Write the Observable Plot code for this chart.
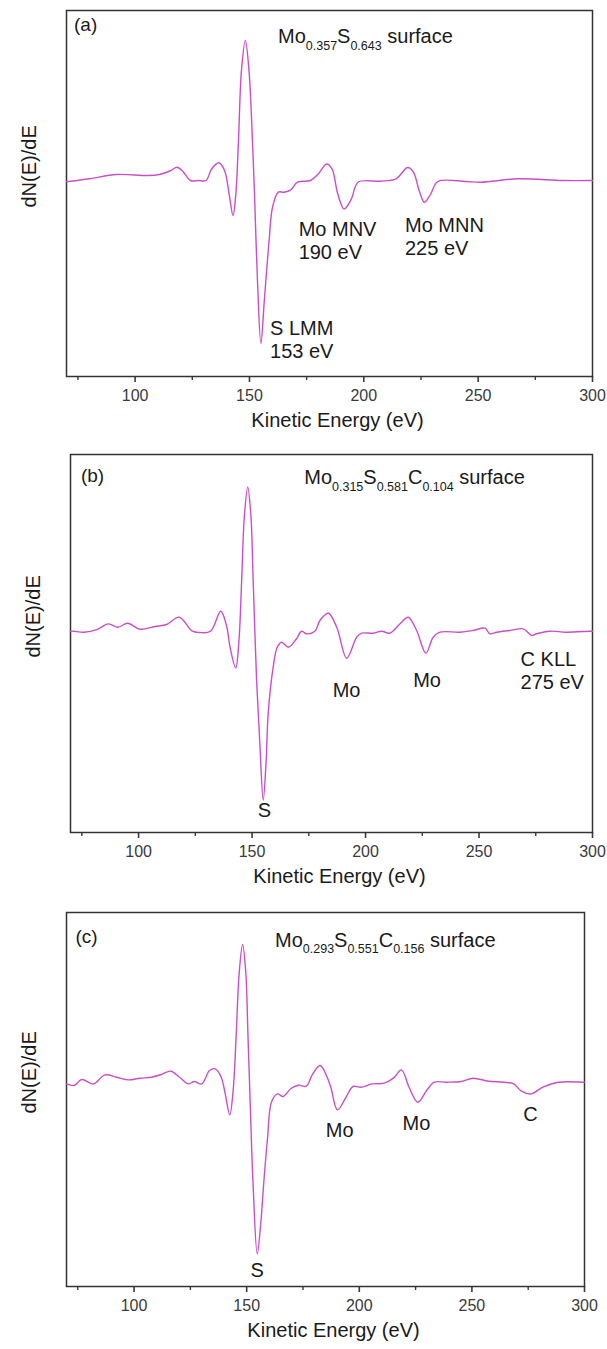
<!DOCTYPE html>
<html><head><meta charset="utf-8">
<script src="https://cdn.jsdelivr.net/npm/d3@7"></script>
<script src="https://cdn.jsdelivr.net/npm/@observablehq/plot@0.6"></script>
<style>
body{margin:0;background:#fff;}
#chart svg{display:block;}
</style></head><body><div id="chart"></div>
<script>
// ---- data ----
const majorTicks = [100, 150, 200, 250, 300];
const minorTicks = [75, 125, 175, 225, 275];
const xLabel = "Kinetic Energy (eV)";
const yLabel = "dN(E)/dE";

// (a) Mo0.357S0.643 surface
const energyA = [70,70.7,80,91.9,105.5,110.6,115.7,118.3,120.8,124.2,127.6,131,133.5,136.6,139.1,141.1,142.8,144,145.2,146.5,148.2,149.8,151.3,152.3,153.5,155,156.5,158.6,160.1,162.6,165.2,168.1,171,176.7,180.2,183.7,186.1,188.6,191.4,194.6,197.5,207.3,214.1,219.2,221.7,224.2,226.5,229.3,232.4,244.6,251.3,267.5,287,300];
const signalA = [-1,-1,1.7,6,5,6,10,13.3,9.3,0,0,0,11.7,17.7,10,-13.3,-35,-15,40,110,140,110,40,-20,-100,-163,-120,-60,-26.7,-11.7,-11.7,-9.3,-1.7,0,6.7,16.5,11.7,-13.3,-28.5,-18.3,-1.7,-0.7,1.7,13,8.3,-10,-21.7,-13.3,-1,-1,-1.7,1.7,0,0];
const tagA = "(a)";
const elementsA = ["Mo", "S"];
const fractionsA = ["0.357", "0.643"];
const labelsA = ["Mo MNV\n190 eV", "Mo MNN\n225 eV", "S LMM\n153 eV"];
const labelXA = [171.5, 218.0, 159.0];
const labelYA = [-78.3, -74.3, -177.3];
const labelAnchorA = ["start", "start", "start"];

// (b) Mo0.315S0.581C0.104 surface
const energyB = [70,71.4,76,81.6,86.7,90.9,95.2,100.6,107.2,112.3,117.9,123.7,126.8,131.7,136.2,138.8,140.3,142.8,144.2,145.4,146.6,148.1,149.5,150.5,152,153.5,154.9,156.2,157.1,159.3,161.1,163,166,169.6,171.8,174,177.7,179.9,183.6,187.3,191.7,196.1,198.3,203.4,207.1,210.7,215.2,218.8,222.5,226.6,229.8,232.8,241.6,247.4,252.6,254.8,257.8,263.6,269.5,273.2,275.4,281.2,288.5,298.8,300];
const signalB = [0,0,-1,1.6,7.3,4,8,2,4.7,6.7,14,0,-1.3,0,20,5,-16,-36.7,-10,50,115,144,115,50,-49,-116,-169,-130,-82.6,-36,-16,-11,-16,-7.6,0,-2.6,0,10.7,18,4,-27,-6,-2,-2,0,-2,7.4,14,0.7,-22,-6,-1,-1,0.7,3,-2.6,-1,0.7,2.4,-4.3,-2.6,0,-1,0,0];
const tagB = "(b)";
const elementsB = ["Mo", "S", "C"];
const fractionsB = ["0.315", "0.581", "0.104"];
const labelsB = ["S", "Mo", "Mo", "C KLL\n275 eV"];
const labelXB = [155.4, 185.5, 221.0, 268.3];
const labelYB = [-185.3, -66, -56, -57.6];
const labelAnchorB = ["middle", "start", "start", "start"];

// (c) Mo0.293S0.551C0.156 surface
const energyC = [70,70.8,73.4,76.8,81.9,87.1,92.3,97.5,102.6,107.8,112.1,116.3,120.2,124.1,126.7,130.1,133.5,136.1,138.7,140.5,142.5,144,145.3,146.7,148.2,149.6,150.6,151.7,152.8,154.7,156.3,157.6,159.3,161,163.7,166.2,169.7,173.1,176.5,179.1,182.6,186.9,190.3,193.8,197.2,200.6,205.8,211,215.3,218.7,222.1,226,229.9,233.3,238.5,245.3,250.5,257.4,264.3,268.6,272,276.3,281.5,288.4,299.5,300];
const signalC = [-2,-2.3,-3.3,2.7,-1.7,7.3,5,2.3,4,5,7.7,11,5,-1.7,0.7,-1.7,11.7,13.3,5,-12,-32.7,-8,45,110,137.7,110,45,-30,-100,-171.7,-140,-100,-55,-20,-11.7,-14.3,-6.3,-3,-4,7.3,16.7,-1.7,-27.7,-16.3,-4.3,-5,-1.7,-1,4.3,12.3,-5,-20,-8.3,0,0,0.7,4,1,0,-1.7,-9,-11.7,-5,0,0,0];
const tagC = "(c)";
const elementsC = ["Mo", "S", "C"];
const fractionsC = ["0.293", "0.551", "0.156"];
const labelsC = ["S", "Mo", "Mo", "C"];
const labelXC = [154.7, 185.1, 219.2, 272.8];
const labelYC = [-195, -55, -47.6, -39];
const labelAnchorC = ["middle", "start", "start", "start"];

// ---- panel layout ----
const panels = [
  {energy: energyA, signal: signalA, tag: tagA, tagX: 73.3, tagY: 150, elements: elementsA, fractions: fractionsA, titleX: 162.7, titleY: 136.7,
   labels: labelsA, lx: labelXA, ly: labelYA, la: labelAnchorA, yDomain: [-196, 170],
   height: 430, marginTop: 10, marginBottom: 54, marginLeft: 66, marginRight: 15},
  {energy: energyB, signal: signalB, tag: tagB, tagX: 74.6, tagY: 149.7, elements: elementsB, fractions: fractionsB, titleX: 173.2, titleY: 146.7,
   labels: labelsB, lx: labelXB, ly: labelYB, la: labelAnchorB, yDomain: [-201.3, 176.7],
   height: 460, marginTop: 24, marginBottom: 58, marginLeft: 70, marginRight: 15},
  {energy: energyC, signal: signalC, tag: tagC, tagX: 74, tagY: 139.7, elements: elementsC, fractions: fractionsC, titleX: 162.8, titleY: 135,
   labels: labelsC, lx: labelXC, ly: labelYC, la: labelAnchorC, yDomain: [-204.3, 169.7],
   height: 459, marginTop: 22, marginBottom: 63, marginLeft: 66, marginRight: 23}
];

const FONT = "'Liberation Sans', Arial, Helvetica, sans-serif";
const LINE = "#c94fc9";
const INK = "#1a1a1a";

const root = document.getElementById("chart");
for (const p of panels) {
  const series = p.energy.map((e, i) => ({energy: e, signal: p.signal[i]}));
  const notes = p.labels.map((t, i) => ({text: t, x: p.lx[i], y: p.ly[i], anchor: p.la[i]}));
  const plot = Plot.plot({
    width: 607,
    height: p.height,
    marginTop: p.marginTop,
    marginBottom: p.marginBottom,
    marginLeft: p.marginLeft,
    marginRight: p.marginRight,
    style: {fontFamily: FONT, fontSize: "16px", color: "#3a3a3a", background: "#fff", overflow: "visible"},
    x: {domain: [70, 300]},
    y: {domain: p.yDomain, axis: null},
    marks: [
      Plot.axisX(minorTicks, {tickSize: 4, tickFormat: () => "", label: null, strokeWidth: 1.4}),
      Plot.axisX(majorTicks, {tickSize: 6, tickPadding: 7, fontSize: 16, label: null, strokeWidth: 1.6}),
      Plot.frame({stroke: "#333", strokeWidth: 1.5}),
      Plot.line(series, {x: "energy", y: "signal", stroke: LINE, strokeWidth: 1.4, curve: "catmull-rom"}),
      Plot.text(notes.filter(d => d.anchor === "start"), {x: "x", y: "y", text: "text", textAnchor: "start", lineAnchor: "bottom", lineHeight: 1.15, fontSize: 20, fill: INK}),
      Plot.text(notes.filter(d => d.anchor === "middle"), {x: "x", y: "y", text: "text", textAnchor: "middle", lineAnchor: "bottom", fontSize: 20, fill: INK}),
      Plot.text([p.tag], {x: p.tagX, y: p.tagY, text: d => d, textAnchor: "start", lineAnchor: "bottom", fontSize: 19, fill: INK}),
      Plot.text([xLabel], {frameAnchor: "bottom", dy: 50, dx: 8, fontSize: 20, fill: INK}),
      Plot.text([yLabel], {frameAnchor: "left", rotate: -90, dx: -37, dy: 14, fontSize: 20, fill: INK})
    ]
  });
  // composition title with subscripts
  const sx = plot.scale("x"), sy = plot.scale("y");
  const t = d3.select(plot).append("text")
    .attr("x", sx.apply(p.titleX)).attr("y", sy.apply(p.titleY))
    .attr("text-anchor", "start")
    .attr("font-family", FONT).attr("font-size", 20).attr("fill", INK);
  p.elements.forEach((el, i) => {
    t.append("tspan").attr("dy", i === 0 ? 0 : -6.5).text(el);
    t.append("tspan").attr("dy", 6.5).attr("font-size", 12.5).text(p.fractions[i]);
  });
  t.append("tspan").attr("dy", -6.5).text(" surface");
  root.appendChild(plot);
}
</script>
</body></html>
